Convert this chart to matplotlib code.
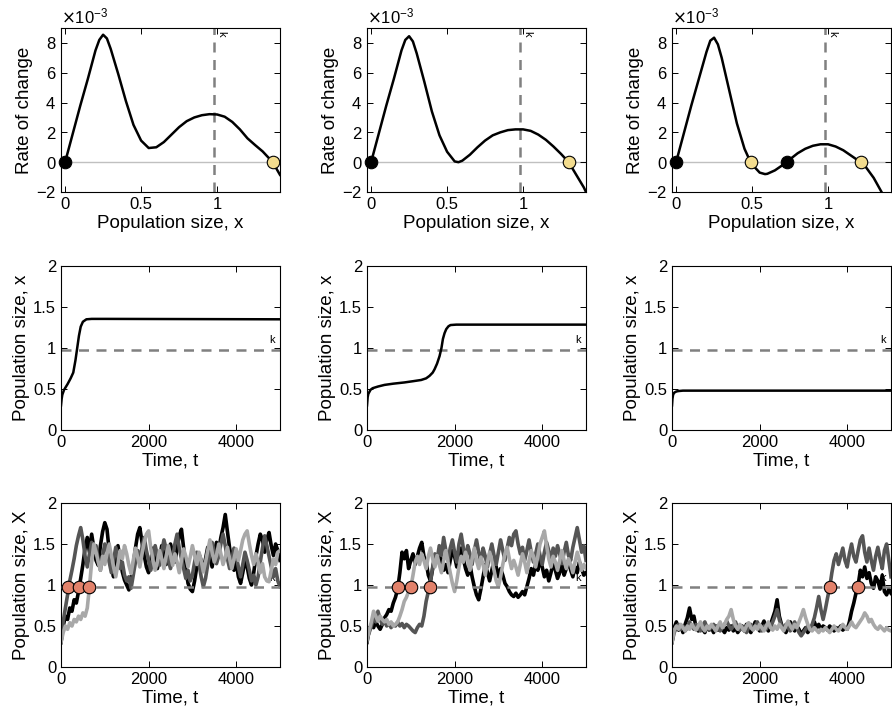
import numpy as np
import matplotlib
matplotlib.use("Agg")
import matplotlib.pyplot as plt

plt.rcParams['font.family'] = ['Liberation Sans', 'DejaVu Sans']
plt.rcParams['axes.unicode_minus'] = False

# ---- data ----
k_val = 0.98

# top row: rate of change (units of 1e-3) vs population size
rate1_x = [0.0, 0.05, 0.10, 0.15, 0.20, 0.225, 0.25, 0.275, 0.30, 0.35, 0.40, 0.45, 0.50, 0.55, 0.60, 0.65,
           0.70, 0.75, 0.80, 0.85, 0.90, 0.95, 1.00, 1.05, 1.10, 1.15, 1.20, 1.25, 1.30, 1.366, 1.414]
rate1_y = [0.0, 1.9, 3.8, 5.6, 7.5, 8.2, 8.55, 8.3, 7.6, 5.9, 4.1, 2.5, 1.45, 0.95, 1.0, 1.35,
           1.85, 2.35, 2.75, 3.0, 3.15, 3.22, 3.2, 3.05, 2.7, 2.2, 1.6, 1.15, 0.72, 0.0, -0.85]
rate2_x = [0.0, 0.05, 0.10, 0.15, 0.20, 0.225, 0.25, 0.275, 0.30, 0.35, 0.40, 0.45, 0.50, 0.55, 0.575, 0.60,
           0.65, 0.70, 0.75, 0.80, 0.85, 0.90, 0.95, 1.00, 1.05, 1.10, 1.15, 1.20, 1.25, 1.30, 1.35, 1.40, 1.414]
rate2_y = [0.0, 1.9, 3.8, 5.6, 7.5, 8.2, 8.45, 8.1, 7.3, 5.4, 3.4, 1.8, 0.7, 0.05, 0.0, 0.1,
           0.5, 1.0, 1.45, 1.8, 2.0, 2.15, 2.2, 2.2, 2.1, 1.85, 1.5, 1.05, 0.55, 0.0, -0.85, -1.7, -2.0]
rate3_x = [0.0, 0.05, 0.10, 0.15, 0.20, 0.225, 0.25, 0.275, 0.30, 0.35, 0.40, 0.45, 0.49, 0.50, 0.55, 0.585,
           0.60, 0.65, 0.70, 0.727, 0.75, 0.80, 0.85, 0.90, 0.95, 1.00, 1.05, 1.10, 1.15, 1.214, 1.25, 1.30, 1.354, 1.40]
rate3_y = [0.0, 1.9, 3.8, 5.6, 7.4, 8.15, 8.35, 7.9, 7.0, 4.8, 2.6, 0.9, 0.0, -0.15, -0.7, -0.8,
           -0.78, -0.55, -0.2, 0.0, 0.2, 0.6, 0.9, 1.1, 1.2, 1.2, 1.05, 0.8, 0.45, 0.0, -0.35, -1.05, -2.04, -2.9]

stable_pts = [[1.366], [1.30], [0.49, 1.214]]
unstable_pts = [[0.0], [0.0], [0.0, 0.727]]

# middle row: deterministic trajectories
mid1_t = [0, 15, 30, 70, 150, 220, 280, 330, 370, 410, 450, 500, 580, 700, 1000, 5000]
mid1_x = [0.30, 0.38, 0.43, 0.49, 0.56, 0.63, 0.70, 0.85, 1.00, 1.15, 1.26, 1.32, 1.35, 1.355, 1.355, 1.35]
mid2_t = [0, 15, 30, 80, 130, 250, 400, 600, 855, 1050, 1237, 1350, 1427, 1500, 1542, 1600, 1656, 1700,
          1733, 1770, 1809, 1860, 1908, 2040, 2500, 5000]
mid2_x = [0.30, 0.40, 0.44, 0.49, 0.51, 0.53, 0.55, 0.565, 0.58, 0.595, 0.61, 0.63, 0.66, 0.70, 0.74, 0.81,
          0.90, 1.00, 1.11, 1.18, 1.23, 1.265, 1.28, 1.285, 1.285, 1.285]
mid3_t = [0, 10, 25, 50, 100, 150, 250, 5000]
mid3_x = [0.30, 0.38, 0.43, 0.455, 0.47, 0.475, 0.48, 0.48]

# bottom row: stochastic trajectories, sampled every 50 time units
sim_t = np.arange(0, 5001, 50)

sim1_black = [0.30, 0.50, 0.62, 0.58, 0.72, 0.68, 0.82, 0.78, 0.92, 1.08,
              1.25, 1.45, 1.58, 1.40, 1.62, 1.45, 1.30, 1.24, 1.48, 1.65,
              1.76, 1.68, 1.42, 1.22, 1.10, 1.30, 1.48, 1.32, 1.16, 1.06,
              1.00, 0.94, 1.05, 1.25, 1.45, 1.62, 1.70, 1.52, 1.36, 1.22,
              1.15, 1.30, 1.45, 1.35, 1.20, 1.32, 1.48, 1.38, 1.25, 1.35,
              1.50, 1.40, 1.28, 1.45, 1.60, 1.68, 1.45, 1.20, 1.02, 0.95,
              0.92, 1.05, 1.22, 1.38, 1.30, 1.18, 1.32, 1.46, 1.35, 1.22,
              1.38, 1.52, 1.42, 1.58, 1.70, 1.86, 1.65, 1.45, 1.30, 1.18,
              1.28, 1.10, 1.02, 1.15, 1.30, 1.22, 1.08, 1.00, 1.15, 1.35,
              1.50, 1.62, 1.55, 1.40, 1.56, 1.64, 1.48, 1.36, 1.50, 1.42, 1.30]
sim1_dark = [0.30, 0.55, 0.72, 0.88, 1.05, 1.18, 1.32, 1.48, 1.60, 1.70,
             1.55, 1.35, 1.22, 1.38, 1.52, 1.40, 1.48, 1.30, 1.18, 1.36,
             1.50, 1.42, 1.28, 1.15, 1.30, 1.46, 1.34, 1.20, 1.28, 1.12,
             1.05, 1.10, 0.96, 1.12, 1.28, 1.42, 1.30, 1.46, 1.58, 1.42,
             1.30, 1.18, 1.32, 1.48, 1.36, 1.24, 1.40, 1.55, 1.44, 1.30,
             1.20, 1.34, 1.50, 1.62, 1.45, 1.32, 1.20, 1.08, 1.18, 1.05,
             1.12, 1.28, 1.40, 1.26, 1.10, 0.98, 1.08, 1.25, 1.38, 1.52,
             1.40, 1.26, 1.35, 1.50, 1.62, 1.48, 1.32, 1.20, 1.30, 1.45,
             1.36, 1.22, 1.10, 1.25, 1.40, 1.30, 1.18, 1.05, 1.12, 1.00,
             1.10, 1.28, 1.45, 1.60, 1.48, 1.35, 1.22, 1.10, 1.20, 1.05, 0.98]
sim1_light = [0.30, 0.42, 0.50, 0.46, 0.54, 0.50, 0.58, 0.55, 0.62, 0.58,
              0.66, 0.62, 0.72, 0.98, 1.28, 1.50, 1.40, 1.28, 1.18, 1.35,
              1.25, 1.38, 1.50, 1.36, 1.22, 1.10, 1.26, 1.42, 1.32, 1.48,
              1.38, 1.24, 1.14, 1.30, 1.45, 1.34, 1.22, 1.38, 1.52, 1.62,
              1.66, 1.45, 1.30, 1.18, 1.28, 1.42, 1.32, 1.20, 1.35, 1.48,
              1.36, 1.24, 1.38, 1.28, 1.15, 1.30, 1.44, 1.35, 1.22, 1.34,
              1.48, 1.36, 1.25, 1.40, 1.30, 1.16, 1.28, 1.42, 1.55, 1.40,
              1.28, 1.36, 1.50, 1.38, 1.25, 1.34, 1.46, 1.32, 1.20, 1.32,
              1.44, 1.30, 1.42, 1.55, 1.62, 1.66, 1.50, 1.36, 1.25, 1.38,
              1.28, 1.15, 1.26, 1.10, 1.05, 1.04, 1.18, 1.32, 1.25, 1.40, 1.42]

sim2_black = [0.30, 0.45, 0.52, 0.48, 0.55, 0.50, 0.46, 0.52, 0.60, 0.64,
              0.70, 0.68, 0.78, 0.85, 0.95, 1.15, 1.40, 1.32, 1.42, 1.20,
              1.30, 1.38, 1.25, 1.35, 1.45, 1.52, 1.35, 1.28, 1.12, 1.05,
              1.20, 1.35, 1.28, 1.40, 1.30, 1.18, 1.25, 1.15, 1.30, 1.42,
              1.35, 1.22, 1.30, 1.45, 1.32, 1.20, 1.12, 1.25, 1.10, 0.98,
              0.88, 0.82, 0.95, 1.10, 1.25, 1.15, 1.05, 1.18, 1.30, 1.22,
              1.10, 1.20, 1.12, 1.02, 0.98, 0.92, 0.88, 0.86, 0.90, 0.85,
              0.88, 0.92, 0.88, 0.98, 1.08, 1.20, 1.12, 1.25, 1.18, 1.30,
              1.22, 1.10, 1.18, 1.05, 1.15, 1.28, 1.18, 1.08, 1.15, 1.25,
              1.12, 1.20, 1.30, 1.18, 1.10, 1.22, 1.15, 1.28, 1.20, 1.12, 1.15]
sim2_dark = [0.35, 0.42, 0.50, 0.62, 0.55, 0.68, 0.58, 0.52, 0.56, 0.50,
             0.54, 0.48, 0.52, 0.50, 0.55, 0.50, 0.53, 0.48, 0.52, 0.50,
             0.47, 0.44, 0.42, 0.48, 0.52, 0.50, 0.62, 0.80, 0.92, 1.05,
             1.22, 1.38, 1.30, 1.48, 1.36, 1.58, 1.42, 1.30, 1.45, 1.55,
             1.40, 1.28, 1.50, 1.62, 1.45, 1.32, 1.48, 1.38, 1.25, 1.42,
             1.55, 1.40, 1.28, 1.45, 1.35, 1.22, 1.38, 1.50, 1.36, 1.25,
             1.40, 1.55, 1.42, 1.30, 1.45, 1.58, 1.48, 1.62, 1.66, 1.50,
             1.38, 1.46, 1.30, 1.42, 1.55, 1.40, 1.28, 1.38, 1.50, 1.36,
             1.25, 1.40, 1.52, 1.42, 1.30, 1.45, 1.35, 1.48, 1.38, 1.26,
             1.40, 1.52, 1.36, 1.30, 1.46, 1.58, 1.70, 1.55, 1.40, 1.48, 1.30]
sim2_light = [0.32, 0.45, 0.55, 0.68, 0.62, 0.56, 0.62, 0.58, 0.55, 0.58,
              0.52, 0.55, 0.50, 0.52, 0.55, 0.62, 0.70, 0.80, 0.85, 0.92,
              0.97, 1.12, 1.28, 1.35, 1.25, 1.38, 1.30, 1.20, 1.35, 1.45,
              1.32, 1.22, 1.36, 1.25, 1.15, 1.30, 1.42, 1.28, 1.15, 1.02,
              0.92, 1.05, 1.22, 1.35, 1.28, 1.40, 1.30, 1.18, 1.32, 1.45,
              1.30, 1.20, 1.34, 1.25, 1.12, 1.28, 1.40, 1.30, 1.18, 1.05,
              0.98, 1.10, 1.25, 1.38, 1.46, 1.32, 1.20, 1.30, 1.22, 1.12,
              1.25, 1.38, 1.28, 1.15, 1.30, 1.42, 1.35, 1.22, 1.35, 1.50,
              1.58, 1.66, 1.48, 1.32, 1.22, 1.35, 1.28, 1.18, 1.30, 1.42,
              1.30, 1.20, 1.32, 1.25, 1.15, 1.28, 1.40, 1.30, 1.18, 1.25, 1.20]

sim3_black = [0.30, 0.48, 0.55, 0.45, 0.50, 0.42, 0.52, 0.60, 0.72, 0.58,
              0.62, 0.48, 0.44, 0.52, 0.46, 0.42, 0.50, 0.45, 0.48, 0.42,
              0.50, 0.45, 0.52, 0.46, 0.42, 0.48, 0.45, 0.50, 0.44, 0.48,
              0.42, 0.46, 0.50, 0.44, 0.52, 0.46, 0.42, 0.48, 0.55, 0.48,
              0.44, 0.50, 0.56, 0.48, 0.44, 0.52, 0.60, 0.68, 0.82, 0.62,
              0.52, 0.46, 0.42, 0.48, 0.55, 0.48, 0.44, 0.50, 0.46, 0.40,
              0.44, 0.48, 0.42, 0.46, 0.50, 0.55, 0.48, 0.52, 0.46, 0.50,
              0.48, 0.45, 0.50, 0.47, 0.44, 0.48, 0.46, 0.50, 0.45, 0.48,
              0.46, 0.55, 0.68, 0.78, 0.90, 1.00, 1.18, 1.10, 1.22, 1.08,
              1.15, 1.02, 0.96, 1.10, 1.05, 0.95, 1.12, 0.92, 0.88, 0.95, 0.90]
sim3_dark = [0.30, 0.42, 0.48, 0.52, 0.46, 0.50, 0.44, 0.48, 0.55, 0.50,
             0.46, 0.52, 0.48, 0.44, 0.50, 0.55, 0.48, 0.45, 0.50, 0.52,
             0.46, 0.50, 0.44, 0.48, 0.52, 0.56, 0.50, 0.46, 0.50, 0.55,
             0.48, 0.45, 0.50, 0.46, 0.42, 0.48, 0.52, 0.46, 0.50, 0.55,
             0.48, 0.44, 0.50, 0.46, 0.52, 0.48, 0.55, 0.62, 0.70, 0.58,
             0.50, 0.46, 0.52, 0.48, 0.44, 0.50, 0.55, 0.48, 0.42, 0.38,
             0.42, 0.46, 0.50, 0.45, 0.52, 0.60, 0.72, 0.86, 0.70, 0.58,
             0.70, 0.84, 0.97, 1.15, 1.30, 1.38, 1.25, 1.35, 1.45, 1.30,
             1.22, 1.38, 1.50, 1.35, 1.28, 1.42, 1.55, 1.60, 1.40, 1.28,
             1.45, 1.30, 1.18, 1.35, 1.46, 1.32, 1.20, 1.42, 1.50, 1.30, 1.10]
sim3_light = [0.30, 0.45, 0.50, 0.46, 0.52, 0.48, 0.44, 0.50, 0.46, 0.52,
              0.48, 0.45, 0.50, 0.55, 0.48, 0.44, 0.50, 0.47, 0.52, 0.48,
              0.44, 0.50, 0.55, 0.48, 0.52, 0.58, 0.62, 0.70, 0.58, 0.50,
              0.46, 0.52, 0.48, 0.44, 0.50, 0.54, 0.48, 0.45, 0.50, 0.46,
              0.52, 0.48, 0.44, 0.50, 0.55, 0.48, 0.45, 0.50, 0.46, 0.52,
              0.48, 0.44, 0.50, 0.56, 0.50, 0.46, 0.52, 0.48, 0.55, 0.62,
              0.70, 0.60, 0.52, 0.46, 0.44, 0.48, 0.45, 0.42, 0.46, 0.44,
              0.48, 0.45, 0.42, 0.46, 0.50, 0.46, 0.44, 0.48, 0.52, 0.48,
              0.46, 0.50, 0.55, 0.50, 0.48, 0.52, 0.56, 0.60, 0.66, 0.62,
              0.55, 0.58, 0.52, 0.48, 0.46, 0.50, 0.47, 0.44, 0.48, 0.45, 0.44]

# first-passage times (orange dots)
cross_times = [[170, 420, 650], [718, 1008, 1427], [3606, 4242]]

rate_x = [rate1_x, rate2_x, rate3_x]
rate_y = [rate1_y, rate2_y, rate3_y]
mid_t = [mid1_t, mid2_t, mid3_t]
mid_x = [mid1_x, mid2_x, mid3_x]
sims = [[sim1_black, sim1_dark, sim1_light],
        [sim2_black, sim2_dark, sim2_light],
        [sim3_black, sim3_dark, sim3_light]]

# ---- figure ----
fig = plt.figure(figsize=(8.92, 7.22), dpi=100)

W, H = 892, 722
col_left = [61, 367, 672]
ax_w = 219
row_top = [28, 266, 503]
ax_h = 164

trace_cols = ['#000000', '#555555', '#a8a8a8']
dash_col = '#808080'
yellow = '#f3dc8e'
orange = '#e2826b'
tick_fs = 12
lab_fs = 13.5


def make_ax(r, c):
    ax = fig.add_axes([col_left[c] / W, 1 - (row_top[r] + ax_h) / H, ax_w / W, ax_h / H])
    ax.tick_params(direction='in', top=True, right=True, labelsize=tick_fs, length=4, width=0.7)
    for s in ax.spines.values():
        s.set_linewidth(0.8)
    return ax


for c in range(3):
    # top row
    ax = make_ax(0, c)
    ax.axhline(0, color='#c0c0c0', lw=1, zorder=1)
    ax.axvline(k_val, color=dash_col, lw=1.8, ls=(0, (4, 3)), zorder=2)
    ax.text(k_val + 0.05, 8.6e-3, 'k', fontsize=8, rotation=-90, ha='center', va='center')
    ax.plot(rate_x[c], np.array(rate_y[c]) * 1e-3, color='black', lw=1.8, zorder=3)
    ax.plot(unstable_pts[c], [0] * len(unstable_pts[c]), 'o', ms=9, mfc='black', mec='black',
            mew=0.8, zorder=4, clip_on=False)
    ax.plot(stable_pts[c], [0] * len(stable_pts[c]), 'o', ms=9, mfc=yellow, mec='black',
            mew=0.8, zorder=4, clip_on=False)
    ax.set_xlim(-0.027, 1.414)
    ax.set_ylim(-2e-3, 9e-3)
    ax.set_xticks([0, 0.5, 1])
    ax.set_xticklabels(['0', '0.5', '1'])
    ax.set_yticks(np.arange(-2, 9, 2) * 1e-3)
    ax.ticklabel_format(axis='y', style='sci', scilimits=(-3, -3), useMathText=True)
    ax.yaxis.get_offset_text().set_fontsize(tick_fs)
    ax.set_xlabel('Population size, x', fontsize=lab_fs, labelpad=2)
    ax.set_ylabel('Rate of change', fontsize=lab_fs, labelpad=2)

    # middle row
    ax = make_ax(1, c)
    ax.axhline(k_val, color=dash_col, lw=1.8, ls=(0, (4, 3)), zorder=1)
    ax.text(4830, 1.1, 'k', fontsize=8, ha='center', va='center')
    ax.plot(mid_t[c], mid_x[c], color='black', lw=1.8, zorder=3)
    ax.set_xlim(0, 5000)
    ax.set_ylim(0, 2)
    ax.set_xticks([0, 2000, 4000])
    ax.set_yticks([0, 0.5, 1, 1.5, 2])
    ax.set_yticklabels(['0', '0.5', '1', '1.5', '2'])
    ax.set_xlabel('Time, t', fontsize=lab_fs, labelpad=2)
    ax.set_ylabel('Population size, x', fontsize=lab_fs, labelpad=2)

    # bottom row
    ax = make_ax(2, c)
    ax.text(4830, 1.08, 'k', fontsize=8, ha='center', va='center', zorder=1)
    for series, col in zip(sims[c], trace_cols):
        ax.plot(sim_t, series, color=col, lw=2.6, zorder=2)
    ax.axhline(k_val, color=dash_col, lw=1.8, ls=(0, (4, 3)), zorder=3)
    ax.plot(cross_times[c], [k_val] * len(cross_times[c]), 'o', ms=9, mfc=orange, mec='black',
            mew=0.8, zorder=5)
    ax.set_xlim(0, 5000)
    ax.set_ylim(0, 2)
    ax.set_xticks([0, 2000, 4000])
    ax.set_yticks([0, 0.5, 1, 1.5, 2])
    ax.set_yticklabels(['0', '0.5', '1', '1.5', '2'])
    ax.set_xlabel('Time, t', fontsize=lab_fs, labelpad=2)
    ax.set_ylabel('Population size, X', fontsize=lab_fs, labelpad=2)

fig.savefig('out.png', dpi=100)
